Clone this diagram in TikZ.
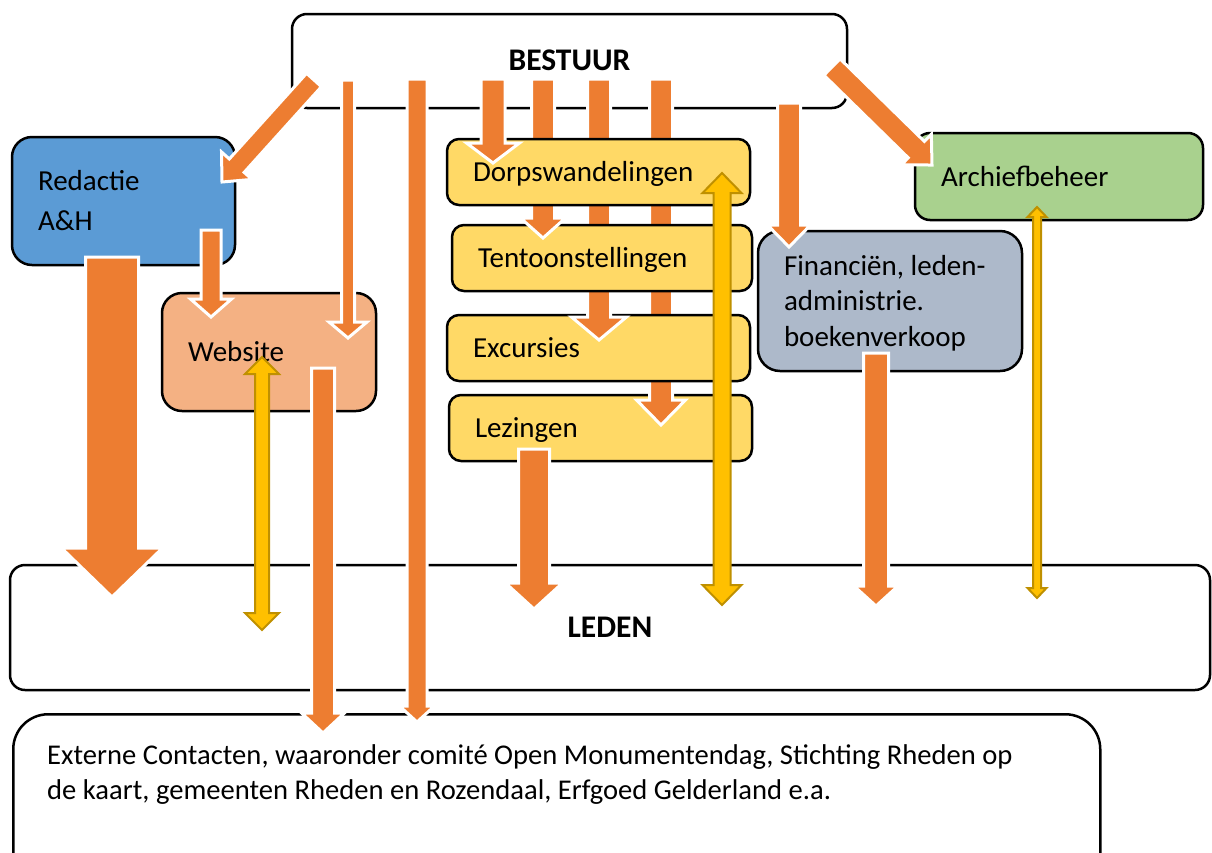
\documentclass[tikz,border=0pt]{standalone}
\usepackage{fontspec}
\setmainfont{Carlito}
\usetikzlibrary{calc}

\definecolor{arrorange}{HTML}{ED7D31}
\definecolor{redblue}{HTML}{5B9BD5}
\definecolor{webpeach}{HTML}{F4B183}
\definecolor{actyellow}{HTML}{FFD966}
\definecolor{fingray}{HTML}{ADB9CA}
\definecolor{archgreen}{HTML}{A9D18E}
\definecolor{arrgold}{HTML}{FFC000}
\definecolor{arrgoldline}{HTML}{BF9000}

% block arrow: [style]{tail}{tip}{half shaft}{half head}{head length}
\newcommand{\blockarrow}[6][orangearrow]{%
  \coordinate (hb) at ($(#3)!#6!(#2)$);
  \path[#1] ($(#2)!#4!90:(#3)$) -- ($(hb)!#4!90:(#3)$) -- ($(hb)!#5!90:(#3)$) -- (#3)
    -- ($(hb)!#5!-90:(#3)$) -- ($(hb)!#4!-90:(#3)$) -- ($(#2)!#4!-90:(#3)$) -- cycle;
}
% double block arrow: [style]{end}{end}{half shaft}{half head}{head length}
\newcommand{\dblockarrow}[6][goldarrow]{%
  \coordinate (ha) at ($(#2)!#6!(#3)$);
  \coordinate (hb) at ($(#3)!#6!(#2)$);
  \path[#1] (#2) -- ($(ha)!#5!90:(#3)$) -- ($(ha)!#4!90:(#3)$) -- ($(hb)!#4!-90:(#2)$)
    -- ($(hb)!#5!-90:(#2)$) -- (#3) -- ($(hb)!#5!90:(#2)$) -- ($(hb)!#4!90:(#2)$)
    -- ($(ha)!#4!-90:(#3)$) -- ($(ha)!#5!-90:(#3)$) -- cycle;
}

\begin{document}
\begin{tikzpicture}[x=1pt,y=-1pt]
  \tikzstyle{box}=[draw=black,line width=2.5pt,rounded corners=15pt,inner xsep=26pt,inner ysep=0pt,
                   align=flush left,text height=19pt,text depth=0pt,font=\fontsize{29}{35.5}\selectfont]
  \tikzstyle{activity}=[box,fill=actyellow,rounded corners=12pt,text width=251pt,minimum height=66pt]
  \tikzstyle{orangearrow}=[fill=arrorange,draw=white,line width=3pt]
  \tikzstyle{goldarrow}=[fill=arrgold,draw=arrgoldline,line width=2pt]

  \useasboundingbox (0,0) rectangle (1212,852);

  \node[box,fill=white,text width=503pt,align=center,minimum height=94pt,
        font=\fontsize{31.5}{35.5}\selectfont\bfseries] (bestuur) at (569.5,61) {BESTUUR};
  \node[box,fill=white,text width=1148pt,align=center,minimum height=125pt,
        font=\fontsize{31.5}{35.5}\selectfont\bfseries] (leden) at (610,627.5) {LEDEN};
  \node[box,fill=white,rounded corners=35pt,minimum width=1087pt,minimum height=200pt,
        anchor=north west] (externe) at (12,713) {};
  \node[anchor=base west,text width=1040pt,align=flush left,inner sep=0pt,
        font=\fontsize{28.6}{35.5}\selectfont] (externe-text) at (47,764)
        {Externe Contacten, waaronder comité Open Monumentendag, Stichting Rheden op\\
         de kaart, gemeenten Rheden en Rozendaal, Erfgoed Gelderland e.a.};

  \node[box,fill=redblue,rounded corners=20pt,text width=171pt,minimum height=128pt,text depth=40pt,
        font=\fontsize{29}{40}\selectfont] (redactie) at (123.5,201) {Redactie\\A\&H};
  \node[box,fill=webpeach,rounded corners=20pt,text width=162pt,minimum height=118pt] (website) at (269,352) {Website};
  \node[box,fill=fingray,rounded corners=22pt,text width=212pt,minimum height=140pt,text depth=71pt]
        (financien) at (890,301) {Financiën, leden-\\administrie.\\boekenverkoop};
  \node[box,fill=archgreen,text width=236pt,minimum height=87pt] (archief) at (1059,176.5) {Archiefbeheer};

  \foreach \name/\x/\y in {b-red/314/80, e-red/222/182, b-arch/832/67, e-arch/932/165,
                          b-web/348/80, e-web/348/338, b-ext/417/79, e-ext/417/722,
                          b-dorp/493/79, e-dorp/493/163, b-tent/543/79, e-tent/543/238,
                          b-exc/599/79, e-exc/599/340, b-lez/661/79, e-lez/661/425,
                          r-web/211/230, e-rweb/211/317, r-led/112/257, e-rled/112/597,
                          w-ext/323/368, e-wext/323/733, l-led/534/449, e-lled/534/609,
                          b-fin/789/103, e-fin/789/247, f-led/876/353, e-fled/876/606,
                          g-web/262/357, g-webl/262/630, g-dorp/722/173, g-dorpl/722/605,
                          g-arch/1037/207, g-archl/1037/598}
    \coordinate (\name) at (\x,\y);

  % activities stacked, each arrow behind the boxes above its target
  \node[activity] (lezingen) at (600.5,428) {Lezingen};
  \blockarrow{b-lez}{e-lez}{11.5pt}{24.5pt}{25pt}
  \node[activity] (excursies) at (598.5,348) {Excursies};
  \blockarrow{b-exc}{e-exc}{11.5pt}{27.5pt}{23pt}
  \node[activity,text width=248pt] (tentoonstellingen) at (602,258) {Tentoonstellingen};
  \blockarrow{b-tent}{e-tent}{11.5pt}{22.5pt}{20pt}
  \node[activity] (dorpswandelingen) at (598.5,172) {Dorpswandelingen};
  \blockarrow{b-dorp}{e-dorp}{12pt}{26.5pt}{20pt}

  \foreach \from/\to/\s/\h/\l in {b-red/e-red/10pt/20.5pt/22pt, b-arch/e-arch/11.5pt/21.5pt/22pt,
                                  b-web/e-web/6.5pt/19pt/16pt, b-ext/e-ext/10pt/17.5pt/16pt,
                                  r-web/e-rweb/10pt/20.5pt/18pt, r-led/e-rled/26.5pt/50.5pt/49pt,
                                  w-ext/e-wext/11.5pt/21.5pt/20pt, l-led/e-lled/15.5pt/28.5pt/26pt,
                                  b-fin/e-fin/11.5pt/21.5pt/22pt, f-led/e-fled/12.5pt/22pt/20pt}
    \blockarrow{\from}{\to}{\s}{\h}{\l};

  \foreach \from/\to/\s/\h/\l in {g-web/g-webl/7pt/17pt/17pt, g-dorp/g-dorpl/8.5pt/19.5pt/20pt,
                                  g-arch/g-archl/4pt/9.5pt/10pt}
    \dblockarrow{\from}{\to}{\s}{\h}{\l};

\end{tikzpicture}
\end{document}
